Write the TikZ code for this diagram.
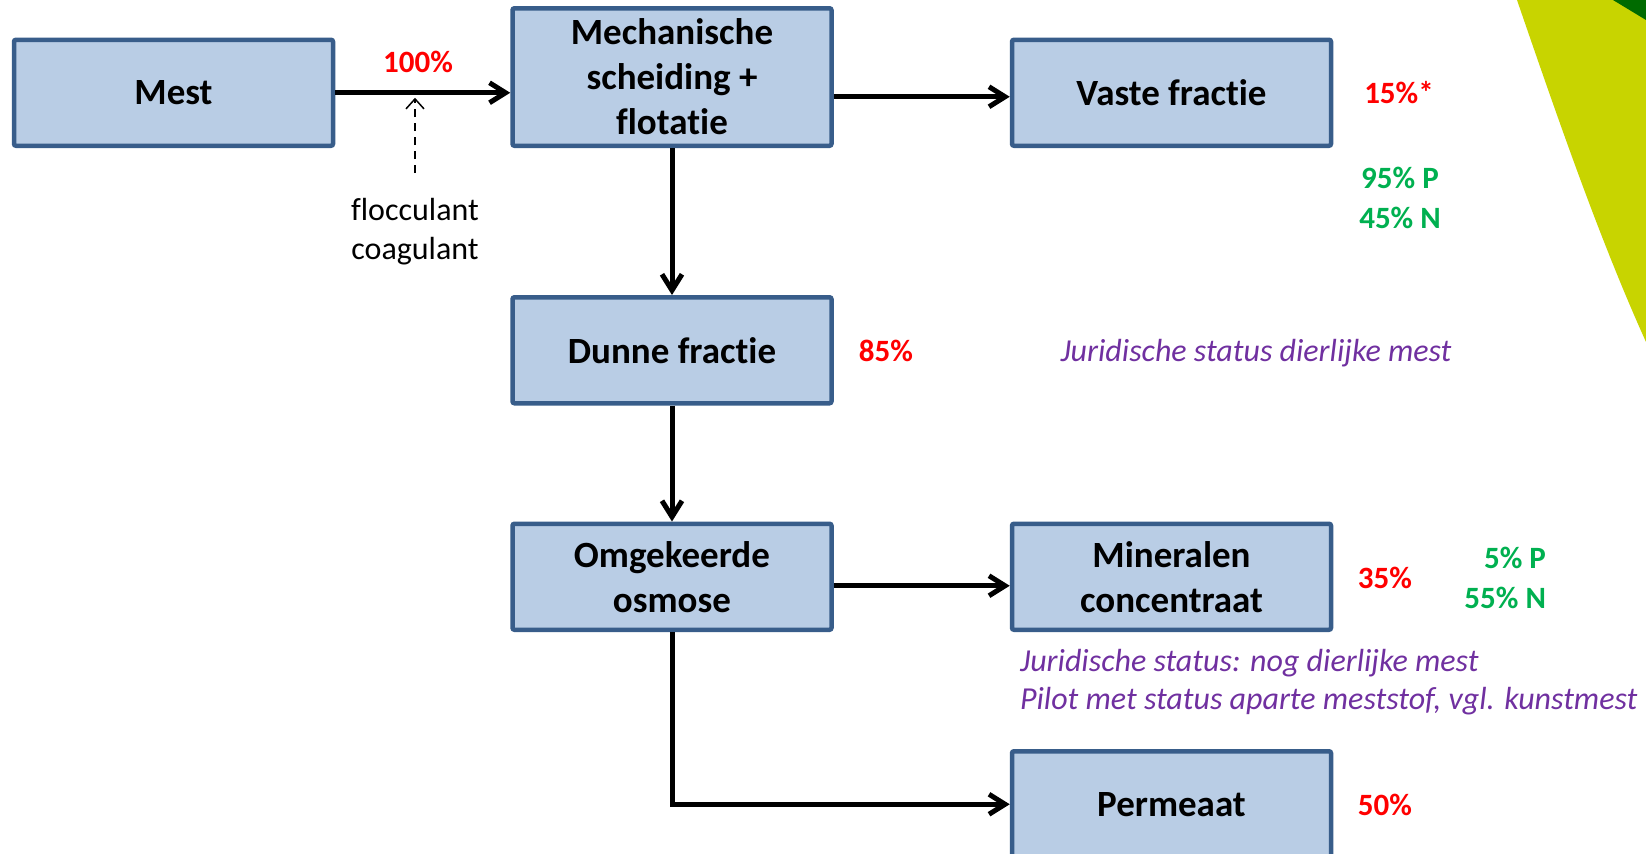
\documentclass[tikz,border=0pt]{standalone}
\usepackage{fontspec}
\setmainfont[Ligatures={NoCommon}]{Carlito}
\usepackage{xcolor}
\usetikzlibrary{arrows.meta,positioning}
\definecolor{boxfill}{HTML}{B9CDE5}
\definecolor{boxline}{HTML}{385D8A}
\definecolor{pctred}{HTML}{FF0000}
\definecolor{nutgreen}{HTML}{00B050}
\definecolor{statpurple}{HTML}{7030A0}
\definecolor{lime}{HTML}{C8D400}
\definecolor{darkleaf}{HTML}{006B00}
\tikzset{
  stage/.style={
    draw=boxline,fill=boxfill,line width=2.25pt,rectangle,rounded corners=1pt,
    minimum width=159.5pt,minimum height=53pt,inner sep=0pt,align=center,
    font=\fontsize{18.5}{22.5}\selectfont\bfseries,
  },
  flow/.style={line width=2.5pt,-{Straight Barb[length=8pt,width=10pt]}},
  dosing/.style={line width=0.75pt,dash pattern=on 4pt off 3pt,
    -{Straight Barb[length=5pt,width=9pt]}},
  pct/.style={text=pctred,font=\fontsize{15.5}{20}\selectfont\bfseries},
  nutrient/.style={text=nutgreen,font=\fontsize{15.5}{20}\selectfont\bfseries},
  status/.style={text=statpurple,font=\fontsize{16}{19}\selectfont\itshape},
}
\begin{document}
\begin{tikzpicture}[x=0.5pt,y=-0.5pt]
  \useasboundingbox (0,0) rectangle (1646,853);
  % corner decoration
  \fill[lime] (1517,0) .. controls (1560,125) and (1600,240) .. (1646,342) -- (1646,0) -- cycle;
  \fill[darkleaf] (1613,0) -- (1646,0) -- (1646,20) -- cycle;
  % stages
  \node[stage,minimum height=68.75pt] (mech) at (672,77) {Mechanische\\scheiding +\\flotatie};
  \node[stage] (mest) [left=87.5pt of mech.south west,anchor=south east] {Mest};
  \node[stage] (vaste) [right=88pt of mech.south east,anchor=south west] {Vaste fractie};
  \node[stage] (dunne) [below=73.5pt of mech] {Dunne fractie};
  \node[stage] (omo) [below=58pt of dunne] {Omgekeerde\\osmose};
  \node[stage] (mineraal) [right=88pt of omo] {Mineralen\\concentraat};
  \node[stage] (permeaat) [below=58.5pt of mineraal] {Permeaat};
  \draw[flow] (mest) -- (mest -| mech.west);
  \draw[flow] ([yshift=-2pt]mech.east |- vaste) -- ([yshift=-2pt]vaste.west);
  \draw[flow] (mech) -- (dunne);
  \draw[flow] (dunne) -- (omo);
  \draw[flow] ([yshift=-4.5pt]omo.east) -- ([yshift=-4.5pt]mineraal.west);
  \draw[flow] (omo.south) |- (permeaat);
  % additives
  \node[align=center,font=\fontsize{16}{19.5}\selectfont] (agent) at (415,232) {flocculant\\coagulant};
  \coordinate (dosestart) at (415,173);
  \draw[dosing,shorten >=2.5pt] (dosestart) -- (dosestart |- mest.east);
  % shares
  \node[pct] (p100) at (418,62) {100\%};
  \node[pct] (p15) at (1399,93) {15\%*};
  \node[nutrient,align=center] (nvaste) at (1400,198) {95\% P\\45\% N};
  \node[pct] (p85) at (886,351) {85\%};
  \node[status] (sdunne) at (1256,353) {Juridische status dierlijke mest};
  \node[pct] (p35) at (1385,578) {35\%};
  \node[nutrient,align=right,anchor=east] (nmin) at (1553,578) {5\% P\\55\% N};
  \node[status,align=left,anchor=west] (smin) at (1013,682) {Juridische status: nog dierlijke mest\\Pilot met status aparte meststof, vgl. kunstmest};
  \node[pct] (p50) at (1385,805) {50\%};
\end{tikzpicture}
\end{document}
